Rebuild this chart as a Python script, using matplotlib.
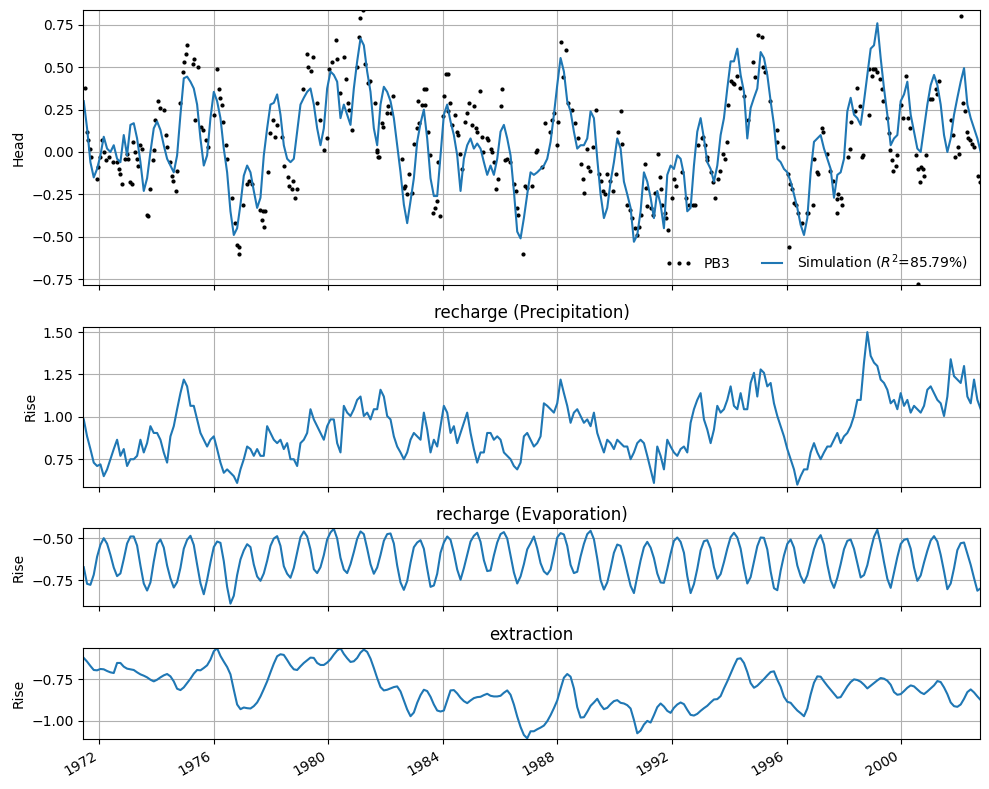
import matplotlib
matplotlib.use("Agg")
import matplotlib.pyplot as plt
import matplotlib.dates as mdates
import pandas as pd

# ── data ───────────────────────────────────────────────────────────────────
N_SIM = 270
sim_start, sim_end = "1971-06-19", "2002-10-10"

head_sim = [
    0.30, 0.14, -0.06, -0.15, -0.10, -0.02, 0.09, 0.02, 0.00, 0.04,
    -0.04, -0.06, 0.10, -0.02, 0.16, 0.17, 0.08, -0.06, -0.23, -0.155,
    0.00, 0.14, 0.18, 0.13, 0.04, -0.04, -0.08, -0.12, -0.02, 0.22,
    0.435, 0.445, 0.415, 0.375, 0.28, 0.08, -0.08, -0.02, 0.20, 0.355,
    0.30, 0.20, 0.02, -0.12, -0.35, -0.49, -0.45, -0.31, -0.14, -0.08,
    -0.12, -0.23, -0.33, -0.27, -0.02, 0.14, 0.28, 0.29, 0.34, 0.22,
    0.04, -0.04, -0.06, -0.04, 0.12, 0.28, 0.32, 0.355, 0.375, 0.28,
    0.14, 0.04, 0.14, 0.375, 0.475, 0.455, 0.415, 0.20, 0.28, 0.22,
    0.16, 0.375, 0.535, 0.67, 0.63, 0.475, 0.355, 0.14, 0.04,
    0.28, 0.385, 0.355, 0.30, 0.20, 0.04, -0.12, -0.31, -0.42, -0.29,
    -0.155, 0.06, 0.17, 0.25, 0.08, -0.155, -0.26, -0.26, -0.02, 0.22,
    0.28, 0.18, 0.10, -0.02, -0.23, -0.04, 0.04, 0.08, 0.02, 0.05,
    0.02, -0.06, -0.135, -0.08, -0.135, -0.04, 0.12, 0.16, 0.08, -0.02,
    -0.23, -0.47, -0.51, -0.39, -0.25, -0.12, -0.135, -0.12, -0.10, -0.08,
    -0.04, 0.06, 0.22, 0.395, 0.555, 0.475, 0.30, 0.24, 0.12, 0.02,
    0.04, 0.04, 0.08, 0.24, 0.20, -0.04, -0.25, -0.39, -0.33, -0.175,
    -0.06, 0.08, 0.02, -0.175, -0.25, -0.33, -0.53, -0.49, -0.35, -0.12,
    -0.175, -0.27, -0.39, -0.23, -0.31, -0.45, -0.135, -0.08, -0.10, -0.02,
    -0.04, -0.135, -0.35, -0.33, -0.08, 0.12, 0.20, 0.08, -0.06, -0.10,
    -0.175, -0.08, 0.10, 0.20, 0.375, 0.535, 0.535, 0.61, 0.455, 0.355,
    0.08, 0.26, 0.32, 0.375, 0.59, 0.555, 0.455, 0.30, 0.16, -0.04,
    -0.06, -0.10, -0.12, -0.175, -0.25, -0.33, -0.43, -0.49, -0.39, -0.12,
    0.06, 0.08, 0.10, 0.02, -0.04, -0.10, -0.27, -0.135, -0.12, -0.04,
    0.24, 0.32, 0.22, 0.20, 0.16, 0.30, 0.455, 0.61, 0.63, 0.76,
    0.555, 0.375, 0.22, 0.04, 0.08, 0.10, 0.30, 0.34, 0.415, 0.22,
    0.12, 0.02, 0.00, 0.14, 0.28, 0.395, 0.455, 0.395, 0.28, 0.10,
    0.00, 0.08, 0.22, 0.32, 0.415, 0.495, 0.28, 0.20, 0.14, 0.08,
    0.00,
]

precip = [
    0.985, 0.885, 0.81, 0.73, 0.71, 0.72, 0.65, 0.69, 0.75, 0.81,
    0.865, 0.77, 0.81, 0.71, 0.75, 0.75, 0.77, 0.865, 0.79, 0.845,
    0.945, 0.905, 0.905, 0.865, 0.79, 0.73, 0.885, 0.945, 1.045, 1.14,
    1.22, 1.18, 1.065, 1.065, 0.985, 0.905, 0.865, 0.825, 0.865, 0.885,
    0.81, 0.73, 0.67, 0.69, 0.67, 0.65, 0.61, 0.69, 0.75, 0.825,
    0.81, 0.77, 0.81, 0.77, 0.77, 0.945, 0.905, 0.865, 0.845, 0.865,
    0.81, 0.845, 0.75, 0.75, 0.71, 0.845, 0.865, 0.905, 1.045, 0.985,
    0.945, 0.905, 0.865, 0.945, 0.985, 0.985, 0.845, 0.79, 1.065, 1.025,
    1.005, 1.045, 1.10, 1.12, 1.005, 1.025, 0.985, 1.045, 1.045, 1.16,
    1.12, 1.005, 0.985, 0.885, 0.825, 0.79, 0.75, 0.79, 0.865, 0.905,
    0.885, 0.865, 1.025, 0.925, 0.79, 0.865, 0.825, 0.945, 1.065, 1.025,
    0.905, 0.945, 0.845, 0.905, 0.965, 1.025, 0.905, 0.81, 0.73, 0.79,
    0.79, 0.905, 0.905, 0.865, 0.885, 0.865, 0.79, 0.77, 0.75, 0.71,
    0.69, 0.73, 0.885, 0.905,
    0.865, 0.825, 0.845, 0.885, 1.08, 1.065, 1.045, 1.025, 1.08, 1.22,
    1.14, 1.065, 0.965, 1.025, 1.045, 1.005, 0.965, 0.985, 0.945, 1.025,
    0.905, 0.845, 0.79, 0.865, 0.845, 0.81, 0.865, 0.845, 0.825, 0.825,
    0.75, 0.79, 0.845, 0.865, 0.845, 0.77, 0.69, 0.61, 0.825, 0.77,
    0.69, 0.865, 0.825, 0.79, 0.77, 0.81, 0.825, 0.79, 0.965, 1.045,
    1.10, 1.14, 0.985, 0.925, 0.845, 0.925, 1.065, 1.025, 1.045, 1.10,
    1.18, 1.065, 1.045, 1.14, 1.045, 1.045, 1.20, 1.26, 1.12, 1.28,
    1.26, 1.18, 1.20, 1.08, 1.005, 0.945, 0.885, 0.81, 0.75, 0.69,
    0.60, 0.65, 0.69, 0.69, 0.79, 0.845, 0.79, 0.75, 0.79, 0.825,
    0.825, 0.865, 0.905, 0.845, 0.885, 0.905, 0.945, 1.005, 1.10, 1.10,
    1.32, 1.50, 1.36, 1.32, 1.30, 1.22, 1.20, 1.16, 1.08, 1.10,
    1.045, 1.14, 1.065, 1.10, 1.025, 1.065, 1.045, 1.025, 1.065, 1.16,
    1.18, 1.14, 1.10, 1.08, 1.005, 1.12, 1.34, 1.24, 1.22, 1.20,
    1.30, 1.12, 1.08, 1.22, 1.10, 1.045,
]

evap = [
    -0.673, -0.772, -0.778, -0.718, -0.611, -0.540, -0.500, -0.533, -0.599, -0.675,
    -0.726, -0.710, -0.625, -0.532, -0.490, -0.490, -0.544, -0.663, -0.770, -0.812,
    -0.764, -0.639, -0.534, -0.508, -0.556, -0.663, -0.740, -0.794, -0.762, -0.677,
    -0.563, -0.510, -0.486, -0.540, -0.657, -0.768, -0.834, -0.748, -0.645, -0.553,
    -0.520, -0.528, -0.637, -0.790, -0.890, -0.843, -0.720, -0.627, -0.573, -0.536,
    -0.553, -0.657, -0.728, -0.754, -0.710, -0.635, -0.546, -0.502, -0.488, -0.546,
    -0.667, -0.712, -0.736, -0.677, -0.585, -0.494, -0.460, -0.490, -0.567, -0.685,
    -0.708, -0.673, -0.601, -0.508, -0.466, -0.444, -0.502, -0.617, -0.687, -0.708,
    -0.655, -0.583, -0.504, -0.460, -0.476, -0.562, -0.655, -0.712, -0.675, -0.600,
    -0.516, -0.476, -0.472, -0.532, -0.663, -0.764, -0.808, -0.756, -0.647, -0.554,
    -0.526, -0.512, -0.563, -0.681, -0.790, -0.782, -0.712, -0.587, -0.526, -0.490,
    -0.510, -0.589, -0.687, -0.748, -0.679, -0.600, -0.520, -0.486, -0.468, -0.522,
    -0.631, -0.696, -0.692, -0.603, -0.526, -0.476, -0.464, -0.502, -0.603, -0.704,
    -0.770, -0.728, -0.655, -0.567,
    -0.530, -0.490, -0.560, -0.649, -0.698, -0.716, -0.687, -0.595, -0.496, -0.470,
    -0.478, -0.546, -0.659, -0.708, -0.700, -0.609, -0.534, -0.476, -0.456, -0.506,
    -0.621, -0.750, -0.806, -0.764, -0.681, -0.587, -0.538, -0.546, -0.617, -0.702,
    -0.784, -0.827, -0.728, -0.633, -0.554, -0.522, -0.556, -0.619, -0.710, -0.764,
    -0.766, -0.683, -0.593, -0.516, -0.496, -0.522, -0.587, -0.726, -0.827, -0.774,
    -0.683, -0.573, -0.518, -0.512, -0.563, -0.673, -0.742, -0.714, -0.643, -0.563,
    -0.494, -0.468, -0.496, -0.563, -0.677, -0.770, -0.732, -0.641, -0.548, -0.496,
    -0.498, -0.567, -0.698, -0.798, -0.810, -0.694, -0.603, -0.534, -0.508, -0.556,
    -0.663, -0.726, -0.766, -0.722, -0.643, -0.565, -0.510, -0.482, -0.538, -0.657,
    -0.750, -0.796, -0.736, -0.655, -0.566, -0.516, -0.508, -0.563, -0.649, -0.734,
    -0.720, -0.661, -0.571, -0.492, -0.450, -0.533, -0.643, -0.742, -0.796, -0.704,
    -0.613, -0.535, -0.510, -0.504, -0.563, -0.675, -0.754, -0.722, -0.645, -0.575,
    -0.514, -0.488, -0.520, -0.599, -0.698, -0.804, -0.770, -0.679, -0.571, -0.530,
    -0.526, -0.593, -0.659, -0.738, -0.813, -0.798,
]

extraction = [
    -0.624, -0.646, -0.672, -0.696, -0.698, -0.690, -0.692, -0.702, -0.710, -0.714,
    -0.654, -0.654, -0.676, -0.688, -0.692, -0.696, -0.710, -0.722, -0.730, -0.740,
    -0.754, -0.764, -0.754, -0.740, -0.728, -0.720, -0.734, -0.764, -0.808, -0.816,
    -0.800, -0.774, -0.748, -0.718, -0.696, -0.698, -0.684, -0.668, -0.634, -0.584,
    -0.566, -0.612, -0.646, -0.678, -0.722, -0.814, -0.902, -0.930, -0.920, -0.924,
    -0.926, -0.912, -0.890, -0.854, -0.810, -0.764, -0.710, -0.658, -0.614, -0.602,
    -0.606, -0.636, -0.668, -0.692, -0.696, -0.674, -0.654, -0.638, -0.622, -0.624,
    -0.654, -0.666, -0.666, -0.652, -0.632, -0.604, -0.580, -0.566, -0.600, -0.626,
    -0.648, -0.644, -0.624, -0.592, -0.574, -0.588, -0.628, -0.684, -0.744, -0.798,
    -0.818, -0.814, -0.806, -0.798, -0.794, -0.824, -0.878, -0.932, -0.972, -0.950,
    -0.892, -0.846, -0.814, -0.822, -0.856, -0.902, -0.938, -0.944, -0.938, -0.878,
    -0.818, -0.816, -0.836, -0.862, -0.882, -0.894, -0.878, -0.864, -0.858, -0.856,
    -0.846, -0.838, -0.850, -0.854, -0.854,
    -0.850, -0.832, -0.818, -0.844, -0.902, -0.974, -1.036, -1.084, -1.104, -1.062,
    -1.062, -1.050, -1.040, -1.028, -1.002, -0.966, -0.924, -0.878, -0.808, -0.742,
    -0.720, -0.736, -0.806, -0.918, -0.980, -0.978, -0.946, -0.910, -0.890, -0.868,
    -0.904, -0.930, -0.922, -0.900, -0.882, -0.876, -0.892, -0.896, -0.906, -0.926,
    -0.994, -1.074, -1.058, -1.022, -1.000, -1.010, -0.966, -0.918, -0.896, -0.914,
    -0.940, -0.952, -0.922, -0.902, -0.890, -0.900, -0.934, -0.964, -0.968, -0.958,
    -0.940, -0.924, -0.910, -0.890, -0.872, -0.870, -0.852, -0.806, -0.764, -0.718,
    -0.672, -0.630, -0.626, -0.654, -0.708, -0.774, -0.802, -0.790, -0.770, -0.750,
    -0.728, -0.708, -0.704, -0.754, -0.796, -0.856, -0.886, -0.892, -0.916, -0.938,
    -0.954, -0.972, -0.926, -0.842, -0.772, -0.734, -0.736, -0.764, -0.790, -0.814,
    -0.838, -0.862, -0.858, -0.826, -0.794, -0.768, -0.752, -0.756, -0.766, -0.784,
    -0.806, -0.790, -0.774, -0.758, -0.744, -0.748, -0.760, -0.784, -0.828, -0.844,
    -0.840, -0.822, -0.802, -0.788, -0.794, -0.812, -0.830, -0.840, -0.824, -0.806,
    -0.788, -0.762, -0.768, -0.800, -0.840, -0.890, -0.912, -0.916, -0.902, -0.868,
    -0.828, -0.812, -0.830, -0.854, -0.876,
]

# observations PB3: decimal year, head
obs_year = [
    1971.50, 1971.582, 1971.617, 1971.675, 1971.733, 1971.908, 1971.966, 1972.048, 1972.118, 1972.176,
    1972.257, 1972.350, 1972.490, 1972.607, 1972.700, 1972.746, 1972.816, 1972.898, 1972.956, 1973.014,
    1973.072, 1973.130, 1973.189, 1973.247, 1973.305, 1973.363, 1973.421, 1973.480, 1973.654, 1973.712,
    1973.771, 1973.864, 1973.910, 1973.945, 1974.062, 1974.120, 1974.260, 1974.330, 1974.376, 1974.469,
    1974.527, 1974.586, 1974.679, 1974.725, 1974.818, 1974.935, 1974.958, 1975.016, 1975.075, 1975.284,
    1975.307, 1975.459, 1975.342, 1975.540, 1975.610, 1975.726, 1975.785, 1976.006, 1976.099, 1976.192,
    1976.215, 1976.274, 1976.332, 1976.425, 1976.471, 1976.623, 1976.739, 1976.821, 1976.867, 1976.891,
    1977.030, 1977.147, 1977.240, 1977.321, 1977.612, 1977.671, 1977.706, 1977.752, 1977.799, 1977.904,
    1977.962, 1978.078, 1978.136, 1978.195, 1978.369, 1978.451, 1978.602, 1978.637, 1978.718, 1978.777,
    1978.835, 1978.893, 1979.126, 1979.242, 1979.277, 1979.394, 1979.475, 1979.615, 1979.708, 1979.859,
    1979.941, 1980.034, 1980.115, 1980.267, 1980.290, 1980.406, 1980.546, 1980.604, 1980.674, 1980.732,
    1980.814, 1980.988, 1981.082, 1981.105, 1981.198, 1981.279, 1981.396, 1981.687, 1981.745,
    1981.452, 1981.627, 1981.708, 1981.778, 1981.859, 1981.918, 1982.034, 1982.092, 1982.174, 1982.244,
    1982.558, 1982.651, 1982.686, 1982.733, 1982.826, 1982.907, 1982.989, 1983.082, 1983.117, 1983.175,
    1983.256, 1983.338, 1983.373, 1983.408, 1983.489, 1983.548, 1983.664, 1983.722, 1983.780, 1983.815,
    1983.897, 1984.013, 1984.036, 1984.095, 1984.165, 1984.188, 1984.246, 1984.304, 1984.421, 1984.502,
    1984.537, 1984.595, 1984.653, 1984.770, 1984.828, 1984.910, 1985.003, 1985.084, 1985.154, 1985.200,
    1985.294, 1985.352, 1985.410, 1985.526, 1985.585, 1985.666, 1985.701, 1985.783, 1985.841, 1985.934,
    1986.015, 1986.074, 1986.167, 1986.225, 1986.341, 1986.493, 1986.539, 1986.574, 1986.632, 1986.807,
    1986.865, 1986.923, 1987.098, 1987.238, 1987.296, 1987.471, 1987.564, 1987.739, 1987.820, 1987.890,
    1987.994, 1988.029, 1988.123, 1988.181, 1988.285, 1988.379, 1988.495, 1988.612, 1988.728, 1988.809,
    1988.903, 1988.938, 1989.019, 1989.077, 1989.135, 1989.229, 1989.345, 1989.438, 1989.519, 1989.601,
    1989.659, 1989.717, 1989.834, 1989.950, 1990.043, 1990.125, 1990.207, 1990.241, 1990.439, 1990.532,
    1990.614, 1990.707, 1990.765, 1990.835, 1990.905, 1991.056, 1991.091, 1991.138, 1991.254, 1991.324,
    1991.405, 1991.522, 1991.580, 1991.603, 1991.662, 1991.755, 1991.789, 1991.848, 1991.987, 1992.069,
    1992.139,
    1992.334, 1992.486, 1992.602, 1992.719, 1992.800, 1992.917, 1993.033, 1993.091, 1993.149, 1993.208,
    1993.231, 1993.347, 1993.417, 1993.499, 1993.615, 1993.673, 1993.790, 1993.848, 1993.906, 1993.964,
    1994.046, 1994.116, 1994.162, 1994.255, 1994.372, 1994.511, 1994.663, 1994.814, 1994.896, 1995.012,
    1995.128, 1995.187, 1995.245, 1995.419, 1995.652, 1995.675, 1995.885, 1996.060, 1996.095, 1996.118,
    1996.176, 1996.258, 1996.327, 1996.409, 1996.525, 1996.700, 1996.758, 1996.909, 1996.956, 1997.049,
    1997.107, 1997.224, 1997.282, 1997.398, 1997.515, 1997.631, 1997.748, 1997.748, 1997.806, 1997.887,
    1997.922, 1998.155, 1998.213, 1998.248, 1998.388, 1998.470, 1998.563, 1998.621, 1998.679, 1998.865,
    1998.889, 1998.982, 1999.028, 1999.098, 1999.168, 1999.261, 1999.319, 1999.378, 1999.494, 1999.564,
    1999.610, 1999.668, 1999.727, 1999.820, 1999.866, 1999.983, 2000.076, 2000.169, 2000.251, 2000.309,
    2000.518, 2000.600, 2000.600, 2000.658, 2000.681, 2000.751, 2000.798, 2000.868, 2001.007, 2001.066,
    2001.217, 2001.240, 2001.333, 2001.729, 2001.799, 2001.880, 2001.962, 2002.008, 2002.078, 2002.171,
    2002.230, 2002.288, 2002.346, 2002.404, 2002.462, 2002.544, 2002.695, 2002.753,
]
obs_head = [
    0.38, 0.12, 0.07, 0.02, -0.03, -0.16, -0.09, -0.03, 0.07, 0.00,
    -0.05, -0.03, -0.06, -0.06, -0.10, -0.13, -0.19, -0.04, -0.01, -0.04,
    -0.18, -0.19, 0.06, 0.00, -0.04, -0.08, 0.04, 0.02, -0.37, -0.38,
    -0.22, -0.05, 0.01, 0.19, 0.30, 0.26, 0.25, 0.10, 0.03, -0.06,
    -0.14, -0.17, -0.23, -0.11, 0.29, 0.47, 0.53, 0.58, 0.63, 0.52,
    0.55, 0.50, 0.19, 0.15, 0.13, 0.07, 0.03, 0.22, 0.49, 0.37,
    0.32, 0.28, 0.18, 0.04, -0.04, -0.27, -0.42, -0.55, -0.60, -0.56,
    -0.31, -0.19, -0.17, -0.19, -0.34, -0.40, -0.35, -0.44, -0.35, -0.12,
    0.11, 0.19, 0.09, 0.16, 0.09, -0.08, -0.15, -0.20, -0.22, -0.17,
    -0.27, -0.22, 0.37, 0.58, 0.50, 0.48, 0.56, 0.29, 0.19, 0.01,
    0.08, 0.49, 0.53, 0.66, 0.55, 0.35, 0.56, 0.43, 0.29, 0.25,
    0.13, 0.50, 0.68, 0.79, 0.84, 0.52, 0.41, 0.01, -0.03,
    0.42, 0.29, 0.00, -0.03, 0.17, 0.15, 0.23, 0.27, 0.23, 0.33,
    -0.04, -0.21, -0.20, -0.25, -0.13, -0.24, 0.05, 0.14, 0.30, 0.17,
    0.28, 0.37, 0.28, 0.37, 0.12, -0.02, -0.36, -0.33, -0.29, -0.06,
    -0.38, 0.21, 0.33, 0.46, 0.46, 0.24, 0.29, 0.16, 0.22, 0.12,
    0.10, -0.01, -0.10, 0.18, 0.23, 0.29, 0.16, 0.27, 0.14, 0.12,
    0.36, 0.09, 0.00, 0.08, 0.07, 0.02, 0.00, -0.06, -0.22, -0.16,
    0.27, 0.37, -0.05, -0.04, -0.06, -0.19, -0.23, -0.33, -0.37, -0.60,
    -0.20, -0.21, -0.20, 0.00, 0.01, -0.09, 0.17, 0.12, 0.19, 0.23,
    0.04, 0.18, 0.65, 0.44, 0.60, 0.29, 0.25, 0.17, 0.08, -0.07,
    -0.16, -0.24, 0.02, -0.09, -0.11, 0.03, 0.25, -0.13, -0.17, -0.23,
    -0.25, -0.13, -0.17, -0.23, -0.13, 0.12, 0.24, 0.05, -0.31, -0.34,
    -0.39, -0.45, -0.49, -0.44, -0.37, -0.07, -0.21, -0.32, -0.33, -0.37,
    -0.24, -0.01, -0.15, -0.22, -0.31, -0.36, -0.39, -0.46, -0.27, -0.16,
    -0.20,
    -0.12, -0.27, -0.31, -0.31, -0.31, 0.04, 0.08, 0.09, 0.04, -0.03,
    -0.05, -0.12, -0.18, -0.27, -0.16, -0.11, -0.01, -0.04, 0.06, 0.28,
    0.42, 0.41, 0.40, 0.45, 0.38, 0.33, 0.19, 0.53, 0.44, 0.69,
    0.68, 0.50, 0.47, 0.30, 0.13, 0.06, 0.03, -0.13, -0.56, -0.19,
    -0.22, -0.30, -0.31, -0.36, -0.42, -0.36, -0.36, -0.31, -0.04, -0.12,
    -0.13, 0.14, 0.12, -0.01, -0.11, -0.17, -0.28, -0.36, -0.25, -0.27,
    -0.31, -0.03, 0.02, 0.18, 0.24, 0.38, 0.27, -0.03, -0.02, 0.22,
    0.49, 0.45, 0.49, 0.49, 0.47, 0.43, 0.37, 0.30, 0.20, 0.11,
    0.01, -0.05, -0.11, -0.08, -0.02, 0.28, 0.20, 0.45, 0.20, 0.14,
    -0.02, -0.10, -0.78, -0.18, -0.09, -0.10, -0.14, -0.02, 0.31, 0.31,
    0.37, 0.34, 0.42, 0.19, 0.10, -0.03, 0.03, -0.01, 0.80, 0.29,
    0.24, 0.12, 0.08, 0.07, 0.05, 0.03, -0.14, -0.18,
]

r2 = 85.79
panel_titles = [None, "recharge (Precipitation)", "recharge (Evaporation)", "extraction"]
panel_ylabels = ["Head", "Rise", "Rise", "Rise"]


def decimal_year_to_date(y):
    base = pd.Timestamp(year=int(y), month=1, day=1)
    return base + pd.Timedelta(days=(y - int(y)) * 365.25)


sim_dates = pd.date_range(sim_start, sim_end, periods=N_SIM)
obs_dates = [decimal_year_to_date(y) for y in obs_year]

# ── figure ─────────────────────────────────────────────────────────────────
fig = plt.figure(figsize=(9.89, 7.89), dpi=100)
gs = fig.add_gridspec(4, 1, height_ratios=[275, 160, 78, 91], hspace=0.275,
                      left=0.0842, right=0.9909, top=0.9877, bottom=0.0634)
ax1 = fig.add_subplot(gs[0])
axes = [ax1] + [fig.add_subplot(gs[i], sharex=ax1) for i in range(1, 4)]

ax1.plot(obs_dates, obs_head, linestyle="none", marker=".", color="k",
         markersize=4, label="PB3")
ax1.plot(sim_dates, head_sim, color="C0", label=f"Simulation ($R^2$={r2:.2f}%)")
ax1.set_ylim(-0.785, 0.84)
ax1.set_yticks([-0.75, -0.5, -0.25, 0.0, 0.25, 0.5, 0.75])
ax1.legend(loc="lower right", ncol=2, frameon=False, numpoints=3)

axes[1].plot(sim_dates, precip, color="C0")
axes[1].set_ylim(0.588, 1.533)
axes[1].set_yticks([0.75, 1.0, 1.25, 1.5])

axes[2].plot(sim_dates, evap, color="C0")
axes[2].set_ylim(-0.906, -0.441)
axes[2].set_yticks([-0.75, -0.5])

axes[3].plot(sim_dates, extraction, color="C0")
axes[3].set_ylim(-1.108, -0.564)
axes[3].set_yticks([-1.0, -0.75])

for ax, title, ylab in zip(axes, panel_titles, panel_ylabels):
    if title:
        ax.set_title(title)
    ax.set_ylabel(ylab)
    ax.grid(True)

ax1.set_xlim(pd.Timestamp("1971-06-13"), pd.Timestamp("2002-10-01"))
ax1.xaxis.set_major_locator(mdates.YearLocator(4))
ax1.xaxis.set_major_formatter(mdates.DateFormatter("%Y"))
for ax in axes[:-1]:
    ax.tick_params(labelbottom=False)
for lab in axes[-1].get_xticklabels():
    lab.set_rotation(30)
    lab.set_ha("right")

fig.savefig("out.png", dpi=100)
